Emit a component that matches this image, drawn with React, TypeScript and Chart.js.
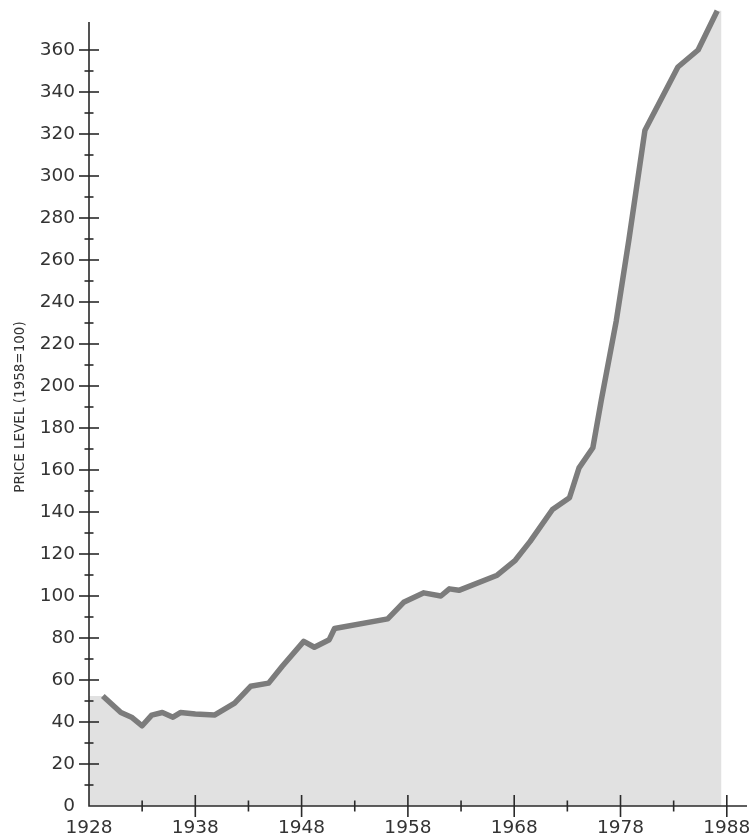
import React, { useEffect, useRef } from "react";
import { Chart, registerables } from "chart.js";

Chart.register(...registerables);

// Years (x) and price level (1958 = 100).
// First point (1928) and last point (1987.5) only shape the shaded area; the line runs between them.
const years: number[] = [
  1928, 1929.3, 1931.0, 1932.0, 1933.0, 1933.9, 1934.9, 1935.9, 1936.6, 1938.0,
  1939.8, 1941.7, 1943.2, 1944.9, 1946.2, 1948.2, 1949.2, 1950.6, 1951.1, 1956.1,
  1957.6, 1959.5, 1961.1, 1961.9, 1962.8, 1966.4, 1968.1, 1969.5, 1971.6, 1973.2,
  1974.1, 1975.4, 1976.2, 1977.6, 1978.8, 1980.3, 1983.4, 1985.3, 1987.1, 1987.5,
];
const priceLevel: number[] = [
  52.4, 52.4, 44.5, 42.3, 38.2, 43.3, 44.5, 42.3, 44.5, 43.8,
  43.3, 49.0, 57.0, 58.5, 66.7, 78.4, 75.6, 79.2, 84.5, 89.1,
  97.0, 101.5, 100.0, 103.4, 102.7, 109.9, 117.0, 126.0, 141.2, 146.8,
  161.0, 170.6, 193.5, 231.0, 270.0, 321.8, 351.9, 360.0, 378.7, 378.7,
];

const xTickValues: number[] = [
  1928, 1933, 1938, 1943, 1948, 1953, 1958, 1963, 1968, 1973, 1978, 1983, 1988,
];
const xLabelYears: number[] = [1928, 1938, 1948, 1958, 1968, 1978, 1988];
const yMajorStep = 20;
const yMinorStep = 10;
const yTopTick = 360;
const yAxisTop = 373.3;

const axisTitle = "PRICE LEVEL (1958=100)";

const FONT = '"DejaVu Sans", sans-serif';
const TEXT = "#333333";
const LINE = "#7c7c7c";
const AREA = "#e1e1e1";

const crossTicks = {
  id: "crossTicks",
  afterDraw(chart: any) {
    const { ctx } = chart;
    const xs = chart.scales.x;
    const ys = chart.scales.y;
    const x0 = xs.getPixelForValue(xs.min);
    const y0 = ys.getPixelForValue(0);
    ctx.save();
    ctx.strokeStyle = "#2a2a2a";
    ctx.lineWidth = 1.6;
    ctx.lineCap = "butt";
    ctx.beginPath();
    ctx.moveTo(x0, ys.getPixelForValue(yAxisTop));
    ctx.lineTo(x0, y0);
    ctx.lineTo(xs.getPixelForValue(xs.max), y0);
    ctx.stroke();
    for (const t of ys.ticks) {
      const v = t.value;
      if (v <= 0 || v > yTopTick || v % yMinorStep !== 0) continue;
      const p = ys.getPixelForValue(v);
      const len = v % yMajorStep === 0 ? 10 : 4.5;
      ctx.beginPath();
      ctx.moveTo(x0 - len, p);
      ctx.lineTo(x0 + len, p);
      ctx.stroke();
    }
    for (const t of xs.ticks) {
      const v = t.value;
      if (v <= xs.min) continue;
      const p = xs.getPixelForValue(v);
      const len = xLabelYears.includes(v) ? 11 : 5.5;
      ctx.beginPath();
      ctx.moveTo(p, y0 - len);
      ctx.lineTo(p, y0 + len);
      ctx.stroke();
    }
    ctx.restore();
  },
};

export default function App() {
  const ref = useRef<HTMLCanvasElement | null>(null);

  useEffect(() => {
    if (!ref.current) return;
    const pts = years.map((y, i) => ({ x: y, y: priceLevel[i] }));
    const chart = new Chart(ref.current, {
      type: "line",
      data: {
        datasets: [
          {
            data: pts,
            borderWidth: 0,
            borderColor: "rgba(0,0,0,0)",
            backgroundColor: AREA,
            fill: "origin",
            pointRadius: 0,
            tension: 0,
            order: 2,
          },
          {
            data: pts.slice(1, -1),
            borderColor: LINE,
            borderWidth: 5.5,
            borderJoinStyle: "round",
            fill: false,
            pointRadius: 0,
            tension: 0,
            clip: false as any,
            order: 1,
          },
        ],
      },
      options: {
        animation: false,
        responsive: false,
        maintainAspectRatio: false,
        layout: { padding: { top: 8, right: 9, left: 0, bottom: 0 } },
        plugins: {
          legend: { display: false },
          tooltip: { enabled: false },
        },
        scales: {
          x: {
            type: "linear",
            min: 1928,
            max: 1989.9,
            grid: { display: false, drawTicks: false },
            border: { display: false },
            afterBuildTicks: (s: any) => {
              s.ticks = xTickValues.map((v) => ({ value: v }));
            },
            afterFit: (s: any) => {
              s.height = 34;
              s.paddingLeft = 0;
              s.paddingRight = 0;
            },
            ticks: {
              autoSkip: false,
              maxRotation: 0,
              padding: 11.5,
              color: TEXT,
              font: { family: FONT, size: 18.5 },
              callback: (v: any) => (xLabelYears.includes(Number(v)) ? String(v) : ""),
            },
          },
          y: {
            type: "linear",
            min: 0,
            max: 380,
            grid: { display: false, drawTicks: false },
            border: { display: false },
            afterBuildTicks: (s: any) => {
              const arr: any[] = [];
              for (let v = 0; v <= yTopTick; v += yMinorStep) arr.push({ value: v });
              s.ticks = arr;
            },
            afterFit: (s: any) => {
              s.width = 89;
              s.paddingTop = 0;
              s.paddingBottom = 0;
            },
            ticks: {
              autoSkip: false,
              padding: 14,
              color: TEXT,
              font: { family: FONT, size: 18.5 },
              callback: (v: any) => (Number(v) % yMajorStep === 0 ? String(v) : ""),
            },
            title: {
              display: true,
              text: axisTitle,
              color: TEXT,
              font: { family: FONT, size: 13.5 },
              padding: { top: 11.9, bottom: 0 },
            },
          },
        },
      },
      plugins: [crossTicks],
    });
    return () => chart.destroy();
  }, []);

  return (
    <div style={{ position: "absolute", left: 0, top: 0, width: 756, height: 840, background: "#fff" }}>
      <canvas ref={ref} width={756} height={840} style={{ width: 756, height: 840 }} />
    </div>
  );
}
